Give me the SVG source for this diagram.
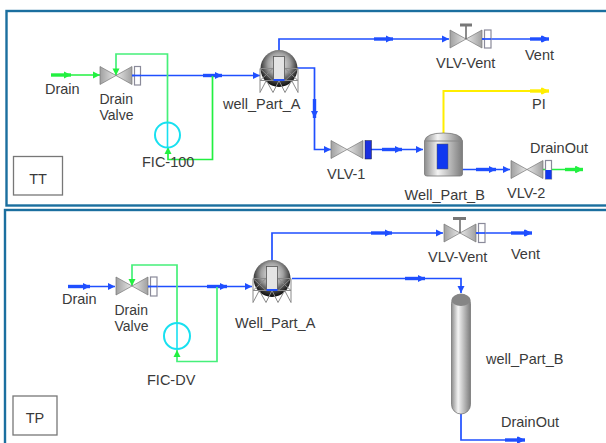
<svg xmlns="http://www.w3.org/2000/svg" width="606" height="443" viewBox="0 0 606 443">
<style>
text{font-family:"Liberation Sans",Arial,sans-serif;font-size:14.5px;fill:#3a3a3a}
.two{font-size:14px}
.f{fill:none;stroke:#1b6f9f;stroke-width:2.4}
.b,.g,.y,.c{fill:none;stroke-width:1.7}
.b{stroke:#1f4fff}.g{stroke:#45f07a}.y{stroke:#ffee00;stroke-width:2}.c{stroke:#18e0f0;stroke-width:2}
.bt,.gt,.yt{fill:none;stroke-width:3.4}
.bt{stroke:#1f4fff}.gt{stroke:#22f040}.yt{stroke:#ffee00}
.lg{fill:none;stroke:#22f040;stroke-width:1.7}
.box{fill:#fff;stroke:#777;stroke-width:1.3}
.vb{fill:#fff;stroke:#8a8a9a;stroke-width:1.2}
.leg{fill:none;stroke:#8a8a8a;stroke-width:1}
</style>
<defs>
<marker id="ab" markerUnits="userSpaceOnUse" markerWidth="9" markerHeight="10" refX="8" refY="5" orient="auto"><path d="M1 1.500L8 5L1 8.500z" fill="#1f4fff"/></marker>
<marker id="ag" markerUnits="userSpaceOnUse" markerWidth="9" markerHeight="10" refX="8" refY="5" orient="auto"><path d="M1 1.500L8 5L1 8.500z" fill="#22f040"/></marker>
<marker id="ay" markerUnits="userSpaceOnUse" markerWidth="9" markerHeight="10" refX="8" refY="5" orient="auto"><path d="M1 1.500L8 5L1 8.500z" fill="#ffee00"/></marker>
<linearGradient id="vl" x1="0" y1="0" x2="1" y2="0"><stop offset="0" stop-color="#a0a0a0"/><stop offset="1" stop-color="#e8e8e8"/></linearGradient>
<linearGradient id="vr" x1="0" y1="0" x2="1" y2="0"><stop offset="0" stop-color="#e8e8e8"/><stop offset="1" stop-color="#a0a0a0"/></linearGradient>
<linearGradient id="cy" x1="0" y1="0" x2="1" y2="0"><stop offset="0" stop-color="#8c8c8c"/><stop offset=".35" stop-color="#f4f4f4"/><stop offset="1" stop-color="#7c7c7c"/></linearGradient>
<radialGradient id="sp" cx=".5" cy=".38" r=".6"><stop offset="0" stop-color="#f0f0f0"/><stop offset=".5" stop-color="#a0a0a0"/><stop offset=".85" stop-color="#333"/><stop offset="1" stop-color="#111"/></radialGradient>
<g id="valve"><path d="M0 0L16 9L0 18z" fill="url(#vl)" stroke="#777" stroke-width=".7"/><path d="M32 0L16 9L32 18z" fill="url(#vr)" stroke="#777" stroke-width=".7"/></g>
<g id="sphere">
<circle r="18.500" fill="url(#sp)"/>
<path class="leg" d="M-19 0V24M19 0V24M-19 0H-6M6 0H19M-19 12H19M-19 0L-6 12M-6 0L-19 12M19 0L6 12M6 0L19 12M-19 24L-12.700 12L-6 24L0 12L6 24L12.700 12L19 24"/>
<rect x="-5.500" y="-12" width="11" height="23" fill="#e4e4e4" stroke="#555" stroke-width=".8"/>
<path d="M-5.500 11.500H5.500" stroke="#1f4fff" stroke-width="2"/>
</g>
</defs>
<rect width="606" height="443" fill="#fff"/>
<g id="frames">
<rect class="f" x="6.500" y="11" width="640" height="194.500"/>
<rect class="f" x="5" y="210" width="640" height="260"/>
</g>
<g id="connectors">
<path class="lg" d="M51 75H100" marker-end="url(#ag)"/>
<path class="gt" d="M51 75H71" marker-end="url(#ag)"/>
<path class="b" d="M132 75.500H260" marker-end="url(#ab)"/>
<path class="bt" d="M203 75.500H222" marker-end="url(#ab)"/>
<path class="lg" d="M212.500 76V159.500H168V147" marker-end="url(#ag)"/>
<path class="g" d="M167.500 122V54H116V75.500" marker-end="url(#ag)"/>
<path class="b" d="M279 50V39H449" marker-end="url(#ab)"/>
<path class="bt" d="M374 39H393" marker-end="url(#ab)"/>
<path class="b" d="M482 39H548" marker-end="url(#ab)"/>
<path class="bt" d="M530 39H549" marker-end="url(#ab)"/>
<path class="b" d="M297 68H314.500V149.500H331" marker-end="url(#ab)"/>
<path class="bt" d="M314.500 99V118" marker-end="url(#ab)"/>
<path class="b" d="M371 149.500H423" marker-end="url(#ab)"/>
<path class="bt" d="M382 149.500H402" marker-end="url(#ab)"/>
<path class="y" d="M443.500 133V91H548" marker-end="url(#ay)"/>
<path class="yt" d="M530 91H549" marker-end="url(#ay)"/>
<path class="b" d="M462 169.500H510" marker-end="url(#ab)"/>
<path class="bt" d="M476 169.500H496" marker-end="url(#ab)"/>
<path class="lg" d="M543 169.500H582" marker-end="url(#ag)"/>
<path class="gt" d="M565 169.500H583" marker-end="url(#ag)"/>
<path class="b" d="M68 286.500H115" marker-end="url(#ab)"/>
<path class="bt" d="M68 286.500H90" marker-end="url(#ab)"/>
<path class="b" d="M148 286.500H252" marker-end="url(#ab)"/>
<path class="bt" d="M207 286.500H227" marker-end="url(#ab)"/>
<path class="g" d="M217 287V361.500H177V350" marker-end="url(#ag)"/>
<path class="g" d="M177 323V265H132V286" marker-end="url(#ag)"/>
<path class="b" d="M272 260V233H443" marker-end="url(#ab)"/>
<path class="bt" d="M371 233H392" marker-end="url(#ab)"/>
<path class="b" d="M476 233H531" marker-end="url(#ab)"/>
<path class="bt" d="M511 233H532" marker-end="url(#ab)"/>
<path class="b" d="M292 278.500H461V293" marker-end="url(#ab)"/>
<path class="bt" d="M405 278.500H425" marker-end="url(#ab)"/>
<path class="b" d="M461 414V440H524" marker-end="url(#ab)"/>
<path class="bt" d="M505 440H525" marker-end="url(#ab)"/>
</g>
<g id="tt-panel">
<g id="tt-label"><rect class="box" x="13.500" y="156.500" width="49" height="38.500"/><text x="38" y="184" text-anchor="middle">TT</text></g>
<g id="tt-drain"><text x="45" y="94">Drain</text></g>
<g id="tt-drain-valve"><use href="#valve" x="100" y="66.500"/><rect class="vb" x="134.500" y="66.500" width="6" height="18.500"/><path class="b" d="M132 75.500H141"/><text class="two"><tspan x="99.500" y="104">Drain</tspan><tspan x="99.500" y="120">Valve</tspan></text></g>
<g id="tt-fic"><circle class="c" cx="167.500" cy="135" r="12.500"/><path class="c" d="M167.500 122.500V147.500" style="stroke-width:1.600"/><text x="142" y="167">FIC-100</text></g>
<g id="tt-well-a"><use href="#sphere" x="279" y="68.500"/><text x="223" y="109">well_Part_A</text></g>
<g id="tt-vlv-vent"><use href="#valve" x="450" y="30"/><path d="M466 39V26" stroke="#666" stroke-width="1.500"/><rect x="460" y="23.500" width="12" height="3" fill="#777"/><rect class="vb" x="484.500" y="30" width="6.500" height="18"/><path class="b" d="M482 39H491"/><text x="436" y="68">VLV-Vent</text></g>
<g id="tt-vent"><text x="525" y="60">Vent</text></g>
<g id="tt-vlv-1"><use href="#valve" x="331" y="140.500"/><rect x="365" y="140.500" width="6.500" height="18.500" fill="#1a2fe0" stroke="#223" stroke-width=".5"/><text x="327" y="179">VLV-1</text></g>
<g id="tt-well-b"><path d="M424.500 141Q426 133 443.500 133Q461 133 462.500 141V174Q462.500 176 460 176H427Q424.500 176 424.500 174z" fill="url(#cy)" stroke="#777" stroke-width=".8"/><path d="M424.500 141H462.500" stroke="#888" stroke-width="1"/><rect x="437" y="144" width="11" height="25" fill="#1038f0" stroke="#555" stroke-width=".5"/><text x="404.500" y="200">Well_Part_B</text></g>
<g id="tt-pi"><text x="532" y="109">PI</text></g>
<g id="tt-vlv-2"><use href="#valve" x="511" y="160.500"/><rect class="vb" x="545.500" y="160.500" width="6" height="18.500"/><rect x="545.500" y="170" width="6" height="9" fill="#1038f0"/><text x="507" y="198">VLV-2</text></g>
<g id="tt-drainout"><text x="530" y="153">DrainOut</text></g>
</g>
<g id="tp-panel">
<g id="tp-label"><rect class="box" x="13" y="396" width="44" height="39"/><text x="35" y="423" text-anchor="middle">TP</text></g>
<g id="tp-drain"><text x="62" y="304">Drain</text></g>
<g id="tp-drain-valve"><use href="#valve" x="116" y="277"/><rect class="vb" x="150.500" y="277" width="6.500" height="19"/><path class="b" d="M148 286.500H157"/><text class="two"><tspan x="114.500" y="315">Drain</tspan><tspan x="114.500" y="331">Valve</tspan></text></g>
<g id="tp-fic"><circle class="c" cx="177" cy="336" r="13"/><path class="c" d="M177 323V349" style="stroke-width:1.600"/><text x="147" y="385">FIC-DV</text></g>
<g id="tp-well-a"><use href="#sphere" x="272" y="278.500"/><text x="235" y="328">Well_Part_A</text></g>
<g id="tp-vlv-vent"><use href="#valve" x="444" y="224"/><path d="M460 233V219" stroke="#666" stroke-width="1.500"/><rect x="453" y="217" width="13" height="3" fill="#777"/><rect class="vb" x="478.500" y="223.500" width="6.500" height="19"/><path class="b" d="M476 233H485"/><text x="428" y="262">VLV-Vent</text></g>
<g id="tp-vent"><text x="511" y="259">Vent</text></g>
<g id="tp-column"><rect x="451.500" y="294" width="19" height="120" rx="9.500" fill="url(#cy)" stroke="#777" stroke-width=".8"/><ellipse cx="461" cy="300" rx="9.500" ry="6" fill="#858585"/><text x="486" y="364">well_Part_B</text></g>
<g id="tp-drainout"><text x="501" y="427">DrainOut</text></g>
</g>
</svg>
